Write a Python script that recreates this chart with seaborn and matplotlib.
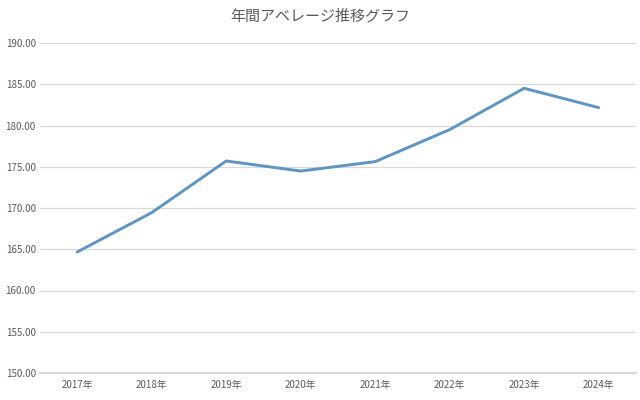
import matplotlib
matplotlib.use("Agg")
import matplotlib.pyplot as plt
import seaborn as sns
import pandas as pd

# ------------------------- Data -------------------------
years = ["2017年", "2018年", "2019年", "2020年", "2021年", "2022年", "2023年", "2024年"]
averages = [164.67, 169.44, 175.70, 174.48, 175.62, 179.50, 184.51, 182.17]
title = "年間アベレージ推移グラフ"

df = pd.DataFrame({"year": years, "avg": averages})

# ------------------------- Style -------------------------
sns.set_style("white")
plt.rcParams["font.family"] = ["Noto Sans CJK JP", "DejaVu Sans"]

fig = plt.figure(figsize=(6.4, 4.0), dpi=100)
ax = fig.add_axes([0.0625, 0.0675, 0.931, 0.825])

sns.lineplot(data=df, x="year", y="avg", sort=False, color="#5e95c3",
             linewidth=2.1, ax=ax)

ax.set_ylim(150, 190)
ax.set_yticks(range(150, 191, 5))
ax.set_yticklabels([f"{v:.2f}" for v in range(150, 191, 5)])
ax.set_xlim(-0.5, len(years) - 0.5)

ax.yaxis.grid(True, color="#d9d9d9", linewidth=0.9)
ax.set_axisbelow(True)
for side in ["top", "right", "left"]:
    ax.spines[side].set_visible(False)
ax.spines["bottom"].set_color("#d0d0d0")
ax.spines["bottom"].set_linewidth(1.2)

ax.tick_params(axis="both", length=0, labelsize=7, labelcolor="#595959")
ax.tick_params(axis="y", pad=3)
ax.tick_params(axis="x", pad=5)
ax.set_xlabel("")
ax.set_ylabel("")

fig.text(0.5, 0.958, title, ha="center", va="center", fontsize=10.8, color="#595959")

fig.savefig("out.png", dpi=100)
